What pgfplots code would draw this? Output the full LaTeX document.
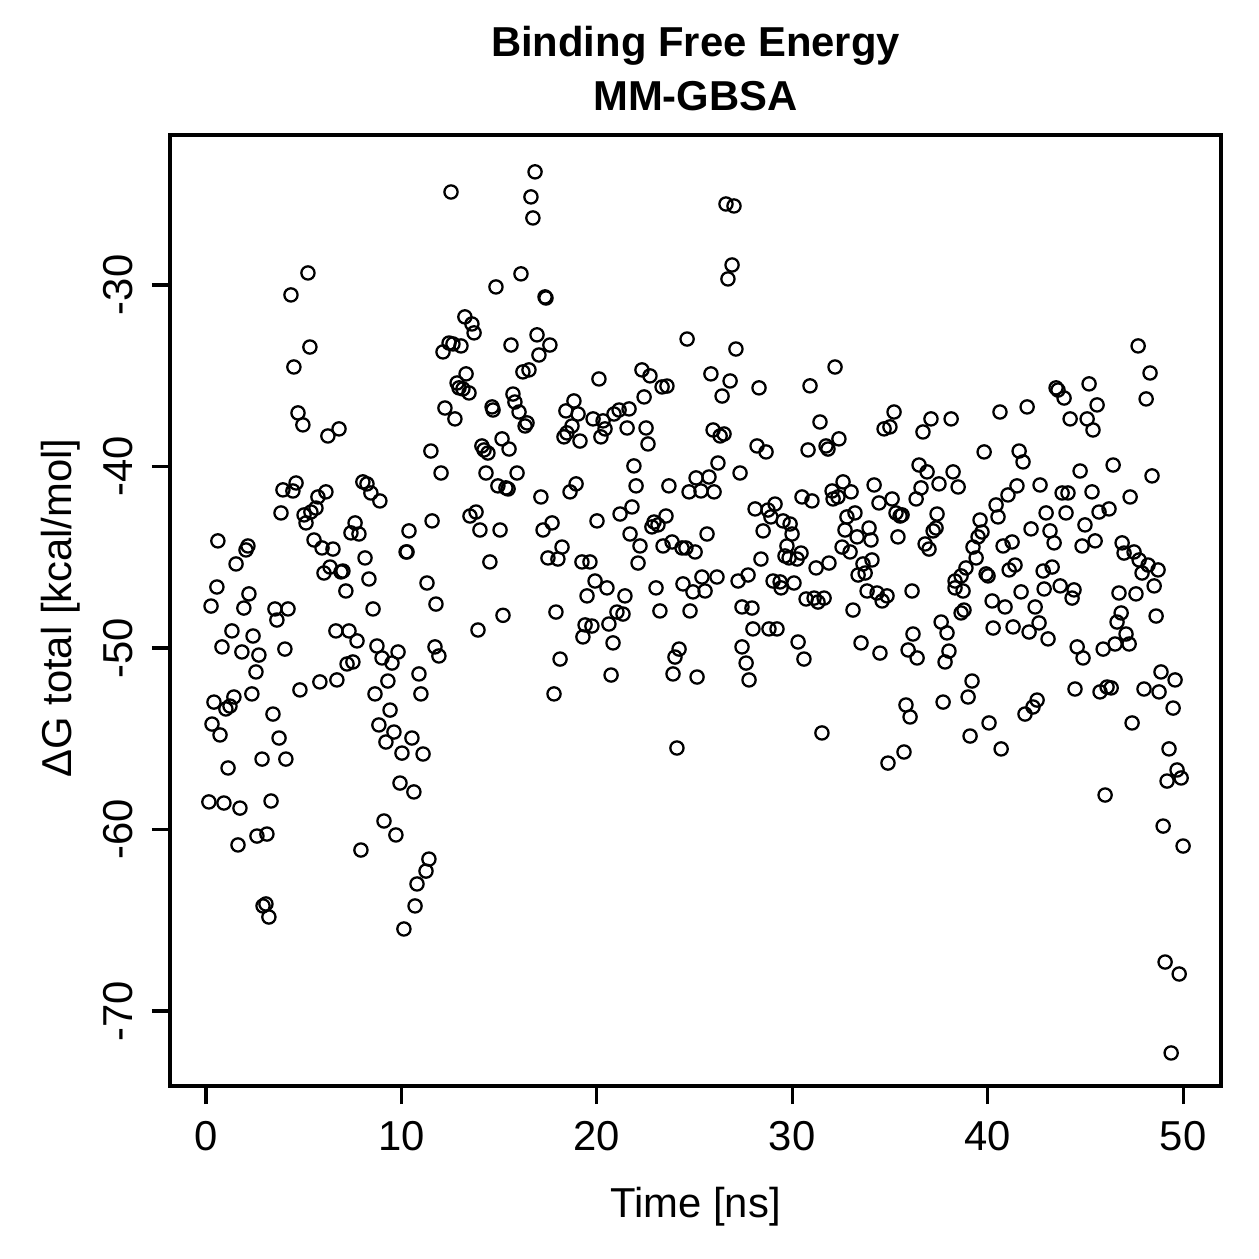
\documentclass[border=0pt]{standalone}
\usepackage{fontspec}
\setmainfont{Liberation Sans}
\usepackage{pgfplots}
\pgfplotsset{compat=1.18}
\usepackage{pgfplotstable}
\pgfplotstableread{
x y
5.22 -29.34
4.35 -30.55
5.32 -33.42
4.50 -34.52
4.71 -37.05
4.96 -37.71
6.81 -37.93
6.24 -38.32
11.51 -39.15
4.61 -40.91
3.94 -41.29
4.45 -41.35
8.03 -40.85
8.24 -40.96
8.44 -41.46
8.90 -41.90
6.14 -41.40
5.73 -41.68
5.63 -42.29
5.37 -42.51
5.02 -42.67
5.12 -43.11
3.84 -42.56
7.63 -43.11
7.42 -43.66
7.83 -43.72
11.57 -43.00
10.39 -43.55
10.24 -44.71
10.29 -44.71
0.61 -44.10
2.15 -44.38
2.05 -44.60
1.54 -45.37
5.53 -44.05
5.94 -44.49
6.50 -44.55
8.14 -45.04
6.35 -45.54
6.04 -45.87
7.01 -45.76
6.91 -45.81
8.34 -46.20
7.16 -46.86
0.56 -46.64
2.20 -47.02
0.26 -47.69
1.94 -47.80
3.53 -47.85
4.20 -47.85
8.55 -47.85
11.31 -46.42
11.77 -47.58
3.63 -48.46
1.33 -49.06
2.41 -49.34
0.82 -49.94
1.84 -50.22
2.71 -50.39
4.04 -50.06
2.56 -51.32
6.65 -49.06
7.32 -49.06
7.73 -49.61
8.75 -49.89
9.01 -50.55
9.83 -50.22
9.52 -50.83
7.22 -50.88
7.52 -50.77
6.70 -51.76
5.83 -51.87
4.81 -52.31
9.31 -51.82
10.90 -51.43
11.00 -52.53
8.65 -52.53
11.72 -49.94
11.92 -50.44
0.41 -52.98
1.43 -52.70
1.23 -53.20
1.02 -53.36
2.35 -52.53
3.43 -53.64
0.31 -54.19
0.72 -54.79
3.74 -54.96
9.42 -53.42
8.85 -54.24
9.62 -54.63
9.21 -55.18
10.54 -54.96
10.03 -55.79
11.11 -55.84
2.87 -56.12
4.09 -56.12
1.13 -56.61
9.93 -57.44
10.64 -57.93
0.15 -58.48
0.92 -58.54
1.74 -58.82
3.33 -58.43
9.11 -59.53
9.72 -60.30
7.93 -61.13
2.61 -60.36
3.12 -60.25
1.64 -60.85
11.41 -61.63
11.26 -62.29
10.80 -63.00
10.70 -64.21
10.13 -65.48
2.92 -64.21
3.07 -64.10
3.22 -64.82
16.84 -23.77
12.54 -24.88
16.63 -25.15
16.73 -26.31
16.12 -29.39
14.84 -30.11
17.35 -30.66
17.40 -30.72
13.25 -31.76
13.61 -32.15
13.72 -32.64
12.13 -33.69
12.44 -33.20
12.64 -33.25
13.05 -33.36
15.61 -33.31
16.94 -32.75
17.60 -33.31
17.04 -33.86
16.22 -34.79
16.53 -34.68
20.11 -35.18
13.31 -34.90
12.85 -35.40
12.95 -35.67
13.15 -35.73
13.46 -35.95
22.31 -34.68
22.72 -35.01
23.34 -35.62
23.59 -35.57
22.42 -36.17
12.23 -36.78
12.74 -37.38
14.64 -36.72
14.69 -36.89
15.71 -36.01
15.81 -36.45
16.02 -37.00
16.43 -37.60
16.33 -37.77
18.83 -36.39
18.42 -36.94
19.04 -37.11
18.73 -37.77
18.32 -38.37
18.47 -38.15
19.14 -38.60
19.81 -37.38
20.32 -37.49
20.42 -37.93
20.21 -38.37
20.88 -37.11
21.14 -36.89
21.65 -36.83
21.55 -37.88
22.52 -37.88
22.62 -38.76
14.12 -38.87
14.23 -39.09
14.43 -39.26
15.15 -38.48
15.51 -39.04
12.03 -40.36
14.33 -40.36
15.92 -40.36
14.94 -41.07
15.35 -41.18
15.46 -41.24
17.14 -41.68
18.94 -40.96
18.63 -41.40
21.90 -39.97
22.01 -41.07
23.69 -41.07
24.72 -41.40
25.08 -40.63
13.51 -42.73
13.82 -42.51
14.02 -43.50
15.05 -43.50
17.25 -43.50
17.71 -43.11
20.01 -43.00
21.19 -42.62
21.80 -42.23
21.70 -43.72
22.21 -44.38
22.82 -43.33
22.93 -43.06
23.13 -43.22
23.54 -42.73
23.39 -44.38
23.85 -44.16
24.36 -44.49
24.56 -44.49
25.03 -44.71
14.53 -45.26
17.50 -45.04
18.01 -45.10
18.22 -44.44
19.24 -45.26
19.65 -45.26
22.11 -45.32
19.91 -46.31
20.52 -46.69
19.50 -47.13
21.44 -47.13
23.03 -46.69
24.41 -46.47
24.92 -46.91
25.38 -46.09
15.20 -48.20
17.91 -48.02
21.03 -48.02
21.34 -48.13
23.23 -47.96
24.77 -47.96
13.92 -49.01
19.40 -48.73
19.75 -48.79
19.29 -49.39
20.62 -48.68
20.83 -49.72
18.12 -50.61
20.73 -51.49
17.81 -52.53
24.21 -50.06
24.00 -50.50
23.90 -51.43
25.13 -51.60
24.10 -55.51
24.62 -32.98
26.61 -25.54
27.02 -25.65
26.92 -28.90
26.71 -29.67
27.12 -33.53
25.84 -34.90
26.82 -35.29
26.41 -36.12
28.30 -35.67
30.91 -35.56
32.19 -34.52
25.95 -37.99
26.31 -38.32
26.51 -38.21
28.20 -38.87
28.66 -39.20
31.42 -37.55
30.81 -39.09
31.73 -38.87
31.83 -39.04
32.39 -38.48
34.70 -37.93
35.00 -37.82
35.21 -37.00
36.69 -38.10
37.10 -37.38
38.13 -37.38
26.20 -39.81
27.33 -40.36
25.74 -40.58
25.33 -41.35
26.00 -41.40
28.10 -42.34
28.76 -42.40
29.12 -42.07
28.91 -42.78
29.53 -43.00
29.89 -43.17
29.99 -43.72
25.64 -43.72
28.51 -43.55
29.73 -44.38
29.63 -44.93
29.84 -45.04
30.25 -45.10
30.45 -44.77
28.40 -45.10
30.50 -41.68
31.01 -41.90
32.04 -41.35
32.60 -40.85
33.01 -41.40
32.09 -41.79
32.34 -41.68
34.19 -41.02
34.44 -42.01
35.11 -41.79
35.31 -42.56
35.52 -42.73
35.62 -42.67
33.21 -42.56
32.80 -42.78
32.70 -43.50
33.32 -43.88
33.93 -43.39
34.03 -44.05
32.55 -44.44
32.96 -44.71
35.41 -43.88
36.49 -39.92
36.90 -40.30
36.59 -41.18
36.34 -41.79
37.51 -40.96
38.23 -40.30
38.49 -41.13
37.41 -42.62
37.36 -43.39
37.21 -43.55
36.80 -44.27
37.00 -44.55
26.15 -46.09
25.54 -46.86
27.23 -46.31
27.74 -45.98
29.02 -46.31
29.38 -46.36
29.43 -46.69
30.09 -46.42
31.22 -45.59
31.88 -45.32
33.62 -45.37
34.08 -45.15
33.37 -45.98
33.73 -45.87
33.83 -46.86
34.34 -46.97
34.85 -47.13
34.60 -47.41
36.13 -46.86
30.71 -47.30
31.12 -47.25
31.32 -47.47
31.63 -47.25
27.43 -47.74
27.94 -47.80
33.11 -47.91
38.33 -46.31
38.33 -46.69
27.99 -48.95
28.81 -48.95
29.22 -48.95
27.43 -49.94
27.64 -50.83
27.79 -51.76
30.30 -49.67
30.60 -50.61
33.52 -49.72
34.49 -50.28
35.93 -50.11
36.39 -50.55
36.18 -49.23
37.62 -48.57
37.92 -49.17
38.02 -50.17
37.82 -50.77
38.64 -48.07
35.82 -53.14
36.03 -53.80
37.72 -52.98
31.52 -54.68
35.72 -55.73
34.90 -56.34
47.70 -33.36
48.31 -34.85
48.11 -36.28
43.50 -35.67
43.60 -35.79
43.91 -36.23
45.19 -35.45
45.60 -36.61
44.22 -37.38
45.09 -37.38
45.39 -37.99
40.63 -37.00
42.02 -36.72
39.82 -39.20
41.61 -39.15
41.81 -39.75
44.73 -40.25
46.42 -39.92
48.41 -40.52
41.50 -41.07
41.04 -41.57
40.43 -42.12
40.53 -42.78
42.68 -41.02
43.81 -41.46
44.11 -41.46
45.34 -41.40
47.29 -41.68
42.99 -42.56
44.01 -42.56
45.70 -42.51
46.21 -42.34
44.98 -43.22
39.61 -42.95
39.71 -43.61
39.51 -43.88
39.25 -44.44
39.41 -45.04
42.22 -43.44
43.19 -43.55
43.40 -44.21
40.79 -44.38
41.25 -44.16
44.83 -44.38
45.50 -44.10
46.88 -44.21
46.98 -44.77
47.49 -44.71
47.75 -45.15
48.21 -45.43
48.72 -45.70
47.90 -45.87
48.52 -46.58
38.89 -45.59
38.64 -46.03
38.74 -46.86
39.92 -45.92
40.02 -46.03
41.10 -45.70
41.40 -45.43
42.84 -45.76
43.30 -45.54
41.71 -46.91
42.89 -46.75
43.71 -46.58
44.42 -46.80
44.32 -47.25
40.23 -47.41
40.89 -47.74
42.43 -47.74
38.79 -47.91
46.72 -46.97
47.59 -47.02
46.83 -48.07
48.62 -48.24
40.28 -48.90
41.30 -48.84
42.12 -49.12
42.63 -48.62
43.09 -49.50
44.58 -49.94
44.88 -50.55
46.62 -48.57
47.08 -49.23
47.24 -49.78
46.52 -49.78
45.91 -50.06
39.20 -51.82
39.00 -52.70
42.53 -52.87
42.32 -53.25
41.91 -53.64
40.07 -54.13
39.10 -54.85
40.69 -55.56
44.47 -52.26
45.75 -52.42
46.11 -52.15
46.32 -52.20
48.00 -52.26
48.77 -52.42
48.87 -51.32
49.59 -51.76
49.49 -53.31
47.39 -54.13
49.28 -55.56
49.69 -56.72
49.18 -57.33
49.90 -57.16
46.01 -58.10
48.98 -59.81
50.00 -60.91
49.08 -67.30
49.80 -67.96
49.39 -72.31
}\gdata
\begin{document}
\begin{tikzpicture}[x=1pt,y=1pt]
\useasboundingbox (0,0) rectangle (361.35,361.35);
\begin{axis}[
  at={(48.79pt,49.65pt)}, anchor=south west,
  scale only axis, width=301.65pt, height=272.95pt,
  xmin=-1.84, xmax=51.94, ymin=-74.13, ymax=-21.74,
  xtick={0,10,20,30,40,50}, ytick={-70,-60,-50,-40,-30},
  minor tick num=0,
  tick align=outside, xtick pos=bottom, ytick pos=left,
  major tick length=5.2pt,
  axis line style={line width=0.9pt},
  every tick/.style={black, line width=0.9pt},
  ticklabel style={font=\fontsize{12}{14}\selectfont},
  /pgf/number format/assume math mode=true,
  xticklabel style={anchor=base, yshift=-13.2pt},
  yticklabel style={xshift=-5.7pt, rotate=90, anchor=base},
  clip=false,
]
\addplot[only marks, mark=o, black, line width=0.65pt, mark size=1.9pt] table[x=x, y=y] {\gdata};
\end{axis}
\node[anchor=base, font=\fontsize{12}{14}\selectfont\bfseries] at (199.62,344.99) {Binding Free Energy};
\node[anchor=base, font=\fontsize{12}{14}\selectfont\bfseries] at (199.62,329.77) {MM-GBSA};
\node[anchor=base, font=\fontsize{12}{14}\selectfont] at (199.62,11.77) {Time [ns]};
\node[anchor=base, rotate=90, font=\fontsize{12}{14}\selectfont] at (20.38,186.84) {ΔG total [kcal/mol]};
\end{tikzpicture}
\end{document}
